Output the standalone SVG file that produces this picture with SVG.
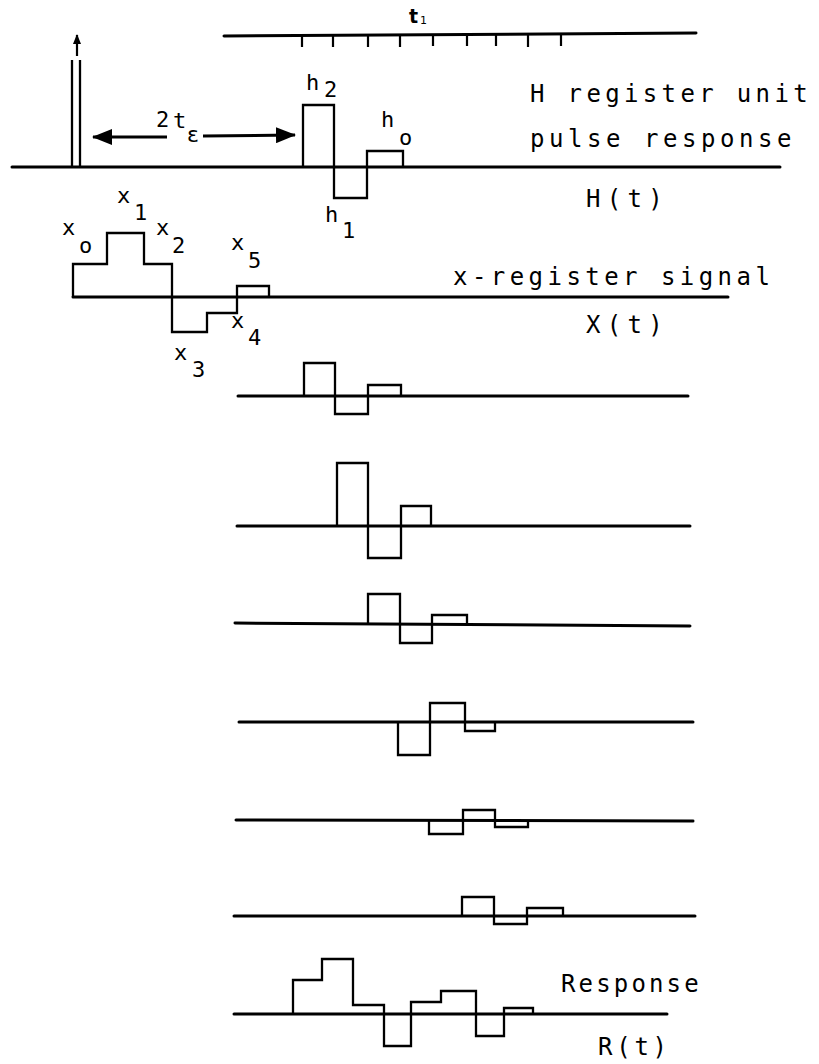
<svg xmlns="http://www.w3.org/2000/svg" width="819" height="1064" viewBox="0 0 819 1064">
  <style>
    .axis { stroke: #000; stroke-width: 3; fill: none; stroke-linecap: round; }
    .pulse { stroke: #000; stroke-width: 2.3; fill: none; stroke-linejoin: miter; }
    .tick { stroke: #000; stroke-width: 2.2; }
    .lbl { font-family: "DejaVu Sans Mono", "Liberation Mono", monospace; font-size: 22px; fill: #000; }
    .sub { font-family: "DejaVu Sans Mono", "Liberation Mono", monospace; font-size: 22px; fill: #000; }
    .cap { font-family: "DejaVu Sans Mono", "Liberation Mono", monospace; font-size: 24px; fill: #000; }
  </style>
  <defs>
    <marker id="head" viewBox="0 0 20 16" refX="19" refY="8" markerWidth="20" markerHeight="16" markerUnits="userSpaceOnUse" orient="auto">
      <path d="M0,0 L20,8 L0,16 Z" fill="#000"/>
    </marker>
    <marker id="small-head" viewBox="0 0 10 8" refX="9" refY="4" markerWidth="10" markerHeight="8" markerUnits="userSpaceOnUse" orient="auto">
      <path d="M0,0 L10,4 L0,8 Z" fill="#000"/>
    </marker>
  </defs>
  <rect width="819" height="1064" fill="#fff"/>

  <!-- time scale with clock ticks -->
  <g id="timeline">
    <line class="axis" x1="224" y1="36" x2="696" y2="33"/>
    <path class="tick" d="M302,35 V47 M333,35 V47 M368,35 V47 M400,34 V47 M433,34 V46 M467,34 V46 M496,34 V46 M528,34 V47 M561,33 V46"/>
    <text x="409" y="23" font-family="DejaVu Sans, sans-serif" font-size="19" font-weight="bold">t</text>
    <text x="420" y="24" font-family="DejaVu Sans, sans-serif" font-size="11">1</text>
  </g>

  <!-- H register: unit impulse and its pulse response -->
  <g id="h-register">
    <line class="axis" x1="12" y1="167" x2="780" y2="167"/>
    <line class="pulse" x1="72" y1="60" x2="72" y2="167"/>
    <line class="pulse" x1="80" y1="60" x2="80" y2="167"/>
    <path class="pulse" d="M303,167 V105 H334 V198 H367 V151 H403 V167"/>
    <text class="sub" x="306" y="90">h</text>
    <text class="sub" x="324" y="97">2</text>
    <text class="sub" x="381" y="127">h</text>
    <text class="sub" x="399" y="145">o</text>
    <text class="sub" x="325" y="222">h</text>
    <text class="sub" x="342" y="238">1</text>
    <text class="cap" x="530" y="102" letter-spacing="4.35">H register unit</text>
    <text class="cap" x="530" y="147" letter-spacing="4.55">pulse response</text>
    <text class="cap" x="586" y="207" letter-spacing="6.3">H(t)</text>
  </g>

  <!-- X register input signal -->
  <g id="x-register">
    <line class="axis" x1="73" y1="297" x2="728" y2="297"/>
    <path class="pulse" d="M73,297 V264 H107 V233 H144 V264 H172 V332 H207 V313 H237 V286 H269 V297"/>
    <text class="sub" x="62" y="235">x</text>
    <text class="sub" x="79" y="253">o</text>
    <text class="sub" x="117" y="203">x</text>
    <text class="sub" x="134" y="220">1</text>
    <text class="sub" x="156" y="235">x</text>
    <text class="sub" x="172" y="253">2</text>
    <text class="sub" x="174" y="360">x</text>
    <text class="sub" x="192" y="377">3</text>
    <text class="sub" x="231" y="328">x</text>
    <text class="sub" x="248" y="345">4</text>
    <text class="sub" x="231" y="250">x</text>
    <text class="sub" x="248" y="268">5</text>
    <text class="cap" x="453" y="285" letter-spacing="4.45">x-register signal</text>
    <text class="cap" x="586" y="333" letter-spacing="6.3">X(t)</text>
  </g>

  <!-- shifted, weighted copies of the pulse response -->
  <g id="term-0">
    <line class="axis" x1="238" y1="396" x2="688" y2="396"/>
    <path class="pulse" d="M304,396 V363 H335 V414 H368 V385 H401 V396"/>
  </g>
  <g id="term-1">
    <line class="axis" x1="237" y1="526" x2="690" y2="526"/>
    <path class="pulse" d="M337,526 V463 H368 V558 H401 V506 H431 V526"/>
  </g>
  <g id="term-2">
    <line class="axis" x1="235" y1="623" x2="690" y2="626"/>
    <path class="pulse" d="M368,624 V594 H400 V643 H432 V615 H467 V625"/>
  </g>
  <g id="term-3">
    <line class="axis" x1="239" y1="722" x2="693" y2="722"/>
    <path class="pulse" d="M398,722 V755 H430 V703 H465 V731 H495 V722"/>
  </g>
  <g id="term-4">
    <line class="axis" x1="236" y1="820" x2="693" y2="821"/>
    <path class="pulse" d="M429,820 V834 H463 V810 H495 V827 H528 V820"/>
  </g>
  <g id="term-5">
    <line class="axis" x1="234" y1="916" x2="695" y2="916"/>
    <path class="pulse" d="M462,916 V897 H494 V924 H527 V908 H563 V916"/>
  </g>

  <!-- summed response -->
  <g id="response">
    <line class="axis" x1="234" y1="1014" x2="667" y2="1014"/>
    <path class="pulse" d="M293,1014 V980 H322 V959 H353 V1005 H384 V1046 H411 V1002 H441 V991 H476 V1036 H504 V1008 H533 V1014"/>
    <text class="cap" x="561" y="992" letter-spacing="3.15">Response</text>
    <text class="cap" x="598" y="1055" letter-spacing="3.75">R(t)</text>
  </g>

  <!-- arrows: impulse marker and the 2t delay span -->
  <g id="connectors">
    <line x1="77" y1="56" x2="77" y2="35" stroke="#000" stroke-width="2.2" marker-end="url(#small-head)"/>
    <line x1="167" y1="137" x2="93" y2="137" stroke="#000" stroke-width="3" marker-end="url(#head)"/>
    <line x1="203" y1="136" x2="295" y2="135" stroke="#000" stroke-width="3" marker-end="url(#head)"/>
    <text class="lbl" x="156" y="127">2</text>
    <text class="lbl" x="173" y="128">t</text>
    <text x="187" y="142" font-family="DejaVu Sans, sans-serif" font-size="22">ε</text>
  </g>
</svg>
